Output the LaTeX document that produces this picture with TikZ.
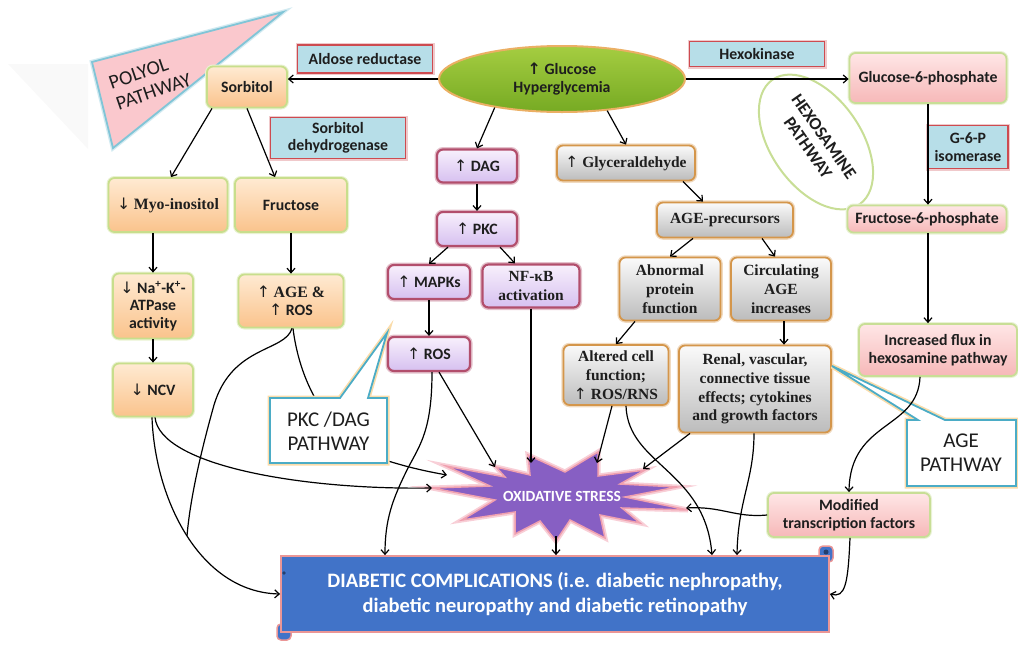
\documentclass[tikz,border=0pt]{standalone}
\usepackage{fontspec}
\setmainfont{Carlito}
\newfontfamily\tnr{Liberation Serif}
\newfontfamily\arrf{DejaVu Sans}
\usetikzlibrary{arrows.meta,shapes.geometric}
\newcommand{\uarr}{{\arrf\mdseries ↑}}
\newcommand{\darr}{{\arrf\mdseries ↓}}
\newcommand{\uarrB}{{\arrf\bfseries ↑}}
\definecolor{txt}{RGB}{30,30,30}
\definecolor{polyT}{RGB}{255,234,210}
\definecolor{polyB}{RGB}{250,195,140}
\definecolor{polyD}{RGB}{200,222,140}
\definecolor{pkcT}{RGB}{248,240,252}
\definecolor{pkcB}{RGB}{214,192,240}
\definecolor{pkcD}{RGB}{178,78,108}
\definecolor{ageT}{RGB}{250,250,250}
\definecolor{ageB}{RGB}{188,188,188}
\definecolor{ageD}{RGB}{212,150,75}
\definecolor{hexT}{RGB}{255,230,230}
\definecolor{hexB}{RGB}{246,184,184}
\definecolor{hexD}{RGB}{200,222,150}
\definecolor{enzF}{RGB}{183,222,232}
\definecolor{enzD}{RGB}{205,75,80}
\definecolor{gluT}{RGB}{165,205,65}
\definecolor{gluB}{RGB}{118,170,35}
\definecolor{gluD}{RGB}{235,175,100}
\definecolor{starF}{RGB}{135,95,195}
\definecolor{starD}{RGB}{240,160,175}
\definecolor{dcF}{RGB}{65,115,200}
\definecolor{dcD}{RGB}{235,150,150}
\definecolor{calD}{RGB}{75,172,198}
\definecolor{calG}{RGB}{250,220,170}
\definecolor{polyF}{RGB}{250,200,205}
\tikzset{
 bx/.style={rounded corners=6pt, align=center, inner sep=1pt, line width=1.8pt, text=txt,
   font=\bfseries\fontsize{15.8}{17.5}\selectfont},
 polyol/.style={bx, draw=polyD, top color=polyT, bottom color=polyB,
   preaction={draw=polyD!40, line width=4pt}},
 pkcb/.style={bx, draw=pkcD, top color=pkcT, bottom color=pkcB, line width=2.2pt,
   preaction={draw=pkcD!35, line width=5pt}},
 ageb/.style={bx, draw=ageD, top color=ageT, bottom color=ageB,
   preaction={draw=ageD!35, line width=4.5pt}, font=\tnr\bfseries\fontsize{15.5}{18.8}\selectfont},
 hexb/.style={bx, draw=hexD, top color=hexT, bottom color=hexB,
   preaction={draw=hexD!40, line width=4pt}},
 enz/.style={bx, rounded corners=0pt, draw=enzD, fill=enzF, preaction={draw=enzD!30, line width=4pt}},
 arw/.style={-{Straight Barb[length=4.5pt,width=8pt]}, line width=1.2pt, black},
 ln/.style={line width=1.2pt, black},
 callout/.style={fill=white, draw=calD, line width=1.8pt, preaction={draw=calG, line width=5pt}},
 caltext/.style={font=\fontsize{21}{24}\selectfont, text=txt, align=center}
}
\begin{document}
\begin{tikzpicture}[x=1pt,y=-1pt]
\useasboundingbox (0,0) rectangle (1018,646);
% faint watermark
\fill[gray!5] (8,64) -- (88,64) -- (88,149) -- cycle;
% polyol pathway callout
\filldraw[fill=polyF, draw=calD!70, line width=1.8pt, preaction={draw=calD!25, line width=4.5pt}]
  (92,62) -- (283,12) -- (113,148) -- cycle;
\node[rotate=19, align=left, text=txt, font=\fontsize{20}{22}\selectfont] (poll) at (150,81) {POLYOL\\PATHWAY};
% hexosamine pathway ellipse
\node[ellipse, draw=hexD, line width=2pt, fill=white, minimum width=152, minimum height=90, inner sep=0pt,
  rotate=-55, align=center, text=txt, font=\bfseries\fontsize{17.5}{19.5}\selectfont] (hexp) at (816,142) {HEXOSAMINE\\PATHWAY};

% glucose
\node[ellipse, draw=gluD, line width=2pt, top color=gluT, bottom color=gluB, minimum width=246, minimum height=66,
  inner sep=0pt, align=center, text=txt, font=\bfseries\fontsize{15.8}{18.5}\selectfont] (glu) at (562,79) {\uarrB\ Glucose\\Hyperglycemia};
% enzymes
\node[enz, minimum width=135, minimum height=28] (aldr) at (365,59) {Aldose reductase};
\node[enz, minimum width=135, minimum height=25] (hexk) at (757,54) {Hexokinase};
\node[enz, minimum width=135, minimum height=41] (sdh) at (338,138) {Sorbitol\\dehydrogenase};
\node[enz, minimum width=80, minimum height=43] (g6pi) at (968,147) {G-6-P\\isomerase};
% polyol boxes
\node[polyol, minimum width=80, minimum height=41] (sorb) at (247,87) {Sorbitol};
\node[polyol, minimum width=119, minimum height=54] (myo) at (168,205) {\darr\ {\tnr Myo-inositol}};
\node[polyol, minimum width=112, minimum height=54] (fruc) at (291,205) {Fructose};
\node[polyol, minimum width=80, minimum height=65] (na) at (153,306) {\darr\ Na\textsuperscript{+}-K\textsuperscript{+}-\\ATPase\\activity};
\node[polyol, minimum width=105, minimum height=53] (agr) at (291,301) {\uarr\ {\tnr AGE \&}\\\uarr\ ROS};
\node[polyol, minimum width=80, minimum height=53] (ncv) at (153,390) {\darr\ NCV};
% pkc boxes
\node[pkcb, minimum width=80, minimum height=33] (dag) at (477,166) {\uarr\ DAG};
\node[pkcb, minimum width=80, minimum height=34] (pkc) at (477,229) {\uarr\ PKC};
\node[pkcb, minimum width=82, minimum height=34] (mapk) at (429,282) {\uarr\ MAPKs};
\node[pkcb, minimum width=97, minimum height=43, font=\tnr\bfseries\fontsize{15.5}{18.5}\selectfont] (nfkb) at (531,286) {NF-κB\\activation};
\node[pkcb, minimum width=82, minimum height=34] (ros) at (429,354) {\uarr\ ROS};
% age boxes
\node[ageb, minimum width=138, minimum height=35] (glyc) at (626,163) {\uarr\ Glyceraldehyde};
\node[ageb, minimum width=136, minimum height=35] (agep) at (725,220) {AGE-precursors};
\node[ageb, minimum width=101, minimum height=63] (abn) at (670,289) {Abnormal\\protein\\function};
\node[ageb, minimum width=100, minimum height=63] (circ) at (781,289) {Circulating\\AGE\\increases};
\node[ageb, minimum width=105, minimum height=60] (alt) at (616,375) {Altered cell\\function;\\\uarr\ ROS/RNS};
\node[ageb, minimum width=152, minimum height=87] (ren) at (755,389) {Renal, vascular,\\connective tissue\\effects; cytokines\\and growth factors};
% hexosamine boxes
\node[hexb, minimum width=157, minimum height=50] (g6p) at (928,78) {Glucose-6-phosphate};
\node[hexb, minimum width=159, minimum height=27] (f6p) at (927,219) {Fructose-6-phosphate};
\node[hexb, minimum width=158, minimum height=52] (flux) at (938,350) {Increased flux in\\hexosamine pathway};
\node[hexb, minimum width=162, minimum height=44] (modf) at (849,515) {Modified\\transcription factors};

% oxidative stress star
\filldraw[fill=starF, draw=starD, line width=1.5pt, preaction={draw=starD!50, line width=5pt}]
 (432,488) -- (490,486) -- (446,466) -- (505,477) -- (496,467) -- (530,475) -- (528,455) -- (565,472)
 -- (598,452) -- (598,476) -- (645,470) -- (620,484) -- (677,487) -- (625,497) -- (688,510) -- (622,508)
 -- (640,523) -- (600,515) -- (605,538) -- (570,520) -- (556,541) -- (540,521) -- (515,534) -- (515,512)
 -- (462,520) -- (495,500) -- cycle;
\node[text=white, font=\bfseries\fontsize{15.5}{17}\selectfont] (ox) at (562,496) {OXIDATIVE STRESS};
\coordinate (sNW) at (447,475);
\coordinate (sL) at (432,488);
\coordinate (sT1) at (495,467);
\coordinate (sT2) at (531,463);
\coordinate (sT3) at (597,463);
\coordinate (sT4) at (643,469);
\coordinate (sR) at (686,508);
\coordinate (sB) at (556,536);

% diabetic complications scroll
\filldraw[fill=dcF, draw=dcD, line width=1.5pt, rounded corners=4pt] (819,546) rectangle (833,562);
\filldraw[fill=dcF, draw=dcD, line width=1.5pt, rounded corners=4pt] (277,624) rectangle (291,640);
\node[fill=dcF, draw=dcD, line width=1.8pt, minimum width=548, minimum height=76, inner sep=0pt, align=center,
  text=white, font=\bfseries\fontsize{20.5}{25.5}\selectfont] (dc) at (555,594)
  {DIABETIC COMPLICATIONS (i.e. diabetic nephropathy,\\diabetic neuropathy and diabetic retinopathy};
\fill[dcF!55!black] (826,552) circle (2.5);
\fill[dcF!55!black] (284,573) circle (1.8);

% AGE pathway callout (under connectors)
\path[callout] (907,420) -- (918,420) -- (832,366) -- (945,420) -- (1016,420) -- (1016,486) -- (907,486) -- cycle;
\node[caltext] (agel) at (961,453) {AGE\\PATHWAY};

% polyol connectors
\coordinate (m1) at (187,536);
\draw[ln] ([xshift=1pt]agr.south) .. controls (285,352) and (232,345) .. (214,405) .. controls (200,455) and (190,500) .. (m1);
\draw[arw] ([xshift=2pt]agr.south) .. controls (300,385) and (330,440) .. (385,460) .. controls (410,468) and (430,472) .. (sNW);

% PKC/DAG callout
\path[callout] (270,398) -- (340,398) -- (387,333) -- (368,398) -- (387,398) -- (387,463) -- (270,463) -- cycle;
\node[caltext] (pkcl) at (328.5,431) {PKC /DAG\\PATHWAY};

% top connectors
\draw[arw] (glu.west) -- (glu.west -| sorb.east);
\draw[arw] (glu.east) -- (glu.east -| g6p.west);
\draw[arw] (glu.203) -- (dag.north);
\draw[arw] (glu.325) -- (glyc.north);
\draw[arw] ([xshift=-35pt]sorb.south) -- ([xshift=3pt]myo.north);
\draw[arw] (sorb.south) -- ([xshift=-16pt]fruc.north);
\draw[arw] (na.north |- myo.south) -- (na.north);
\draw[arw] (na.south) -- (ncv.north);
\draw[arw] (fruc.south) -- (agr.north);
\draw[arw] (dag.south) -- (pkc.north);
\draw[arw] ([xshift=-29pt]pkc.south) -- (mapk.north);
\draw[arw] ([xshift=23pt]pkc.south) -- ([xshift=-16pt]nfkb.north);
\draw[arw] (mapk.south) -- (ros.north);
\draw[arw] ([xshift=57pt]glyc.south) -- ([xshift=-22pt]agep.north);
\draw[arw] ([xshift=-32pt]agep.south) -- (abn.north);
\draw[arw] ([xshift=37pt]agep.south) -- ([xshift=-6pt]circ.north);
\draw[arw] ([xshift=-35pt]abn.south) -- (alt.north);
\draw[arw] ([xshift=3pt]circ.south) -- ([xshift=3pt]circ.south |- ren.north);
\draw[arw] (g6p.south) -- (g6p.south |- f6p.north);
\draw[arw] (g6p.south |- f6p.south) -- (g6p.south |- flux.north);

% lower connectors
\draw[arw] ([xshift=2pt]ncv.south) .. controls (160,465) and (300,490) .. (sL);
\draw[arw] ([xshift=-1pt]ncv.south) .. controls (155,500) and (200,592) .. (dc.west);
\draw[arw] ([xshift=3pt]ros.south) .. controls (432,430) and (420,445) .. (408,468) .. controls (392,500) and (385,520) .. (385,0 |- dc.north);
\draw[arw] ([xshift=10pt]ros.south) -- (sT1);
\draw[arw] (nfkb.south) -- (nfkb.south |- sT2);
\draw[arw] ([xshift=-4pt]alt.south) -- (sT3);
\draw[arw] ([xshift=10pt]alt.south) .. controls (628,465) and (705,470) .. (712,0 |- dc.north);
\draw[arw] ([xshift=-65pt]ren.south) -- (sT4);
\draw[arw] ([xshift=-1pt]ren.south) .. controls (754,480) and (738,500) .. (737,0 |- dc.north);
\draw[arw] ([xshift=-18pt]flux.south) .. controls (918,430) and (850,420) .. (modf.north);
\draw[arw] (modf.west) .. controls (735,518) and (722,506) .. (sR);
\draw[arw] ([xshift=1pt]modf.south) .. controls (848,585) and (845,598) .. (dc.east);
\draw[arw] (sB) -- (sB |- dc.north);
\end{tikzpicture}
\end{document}
